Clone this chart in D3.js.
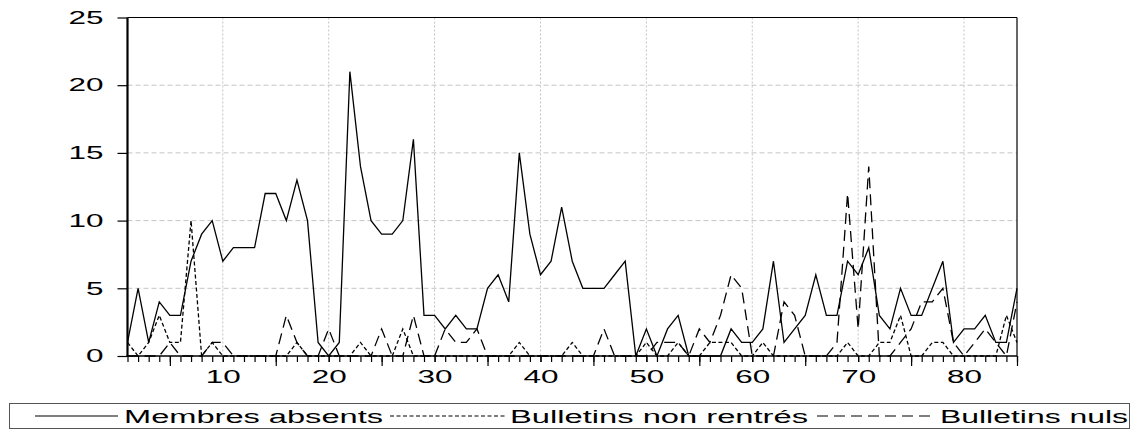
<!DOCTYPE html>
<html>
<head>
<meta charset="utf-8">
<script src="https://cdn.jsdelivr.net/npm/d3@7"></script>
<style>
  html, body { margin: 0; padding: 0; background: #fff; }
  svg { display: block; }
  text { font-family: "Liberation Sans", Arial, sans-serif; fill: #000; }
</style>
</head>
<body>
<svg id="chart" width="1136" height="430"></svg>
<script>
// Observation index 1..85
const observations = d3.range(1, 86);

// Membres absents
const membresAbsents = [
  1, 5, 1, 4, 3, 3, 7, 9, 10, 7,
  8, 8, 8, 12, 12, 10, 13, 10, 1, 0,
  1, 21, 14, 10, 9, 9, 10, 16, 3, 3,
  2, 3, 2, 2, 5, 6, 4, 15, 9, 6,
  7, 11, 7, 5, 5, 5, 6, 7, 0, 2,
  0, 2, 3, 0, 0, 0, 0, 2, 1, 1,
  2, 7, 1, 2, 3, 6, 3, 3, 7, 6,
  8, 3, 2, 5, 3, 3, 5, 7, 1, 2,
  2, 3, 1, 1, 5
];

// Bulletins non rentrés
const bulletinsNonRentres = [
  1, 0, 1, 3, 1, 1, 10, 0, 1, 0,
  0, 0, 0, 0, 0, 0, 1, 0, 0, 0,
  0, 0, 1, 0, 0, 0, 2, 0, 0, 0,
  0, 0, 0, 0, 0, 0, 0, 1, 0, 0,
  0, 0, 1, 0, 0, 0, 0, 0, 0, 1,
  0, 0, 1, 0, 0, 1, 1, 1, 0, 0,
  1, 0, 0, 0, 0, 0, 0, 0, 1, 0,
  0, 1, 1, 3, 0, 0, 1, 1, 0, 0,
  0, 0, 0, 3, 1
];

// Bulletins nuls
const bulletinsNuls = [
  0, 0, 0, 0, 1, 0, 0, 0, 1, 1,
  0, 0, 0, 0, 0, 3, 1, 0, 0, 2,
  0, 0, 0, 0, 2, 0, 0, 3, 0, 0,
  2, 1, 1, 2, 0, 0, 0, 0, 0, 0,
  0, 0, 0, 0, 0, 2, 0, 0, 0, 0,
  1, 1, 1, 0, 2, 1, 3, 6, 5, 0,
  0, 0, 4, 3, 0, 0, 0, 1, 12, 2,
  14, 0, 0, 1, 2, 4, 4, 5, 1, 0,
  1, 2, 1, 0, 4
];

const yTicks = [0, 5, 10, 15, 20, 25];
const xLabelTicks = [10, 20, 30, 40, 50, 60, 70, 80];
const xLongTicks = [5, 15, 25, 35, 45, 55, 65, 75, 85];

const seriesNames = ["Membres absents", "Bulletins non rentrés", "Bulletins nuls"];
const seriesValues = [membresAbsents, bulletinsNonRentres, bulletinsNuls];
const seriesDash = [null, "4,2.5", "11,6"];

const svg = d3.select("#chart");

const x = d3.scaleLinear().domain([1, 85]).range([127.5, 1017]);
const y = d3.scaleLinear().domain([0, 25]).range([356, 17.5]);

// Text is drawn horizontally stretched: width per glyph is fixed via textLength
const DIGIT_W = 17.5;
function stretch(sel, w) {
  sel.attr("textLength", w).attr("lengthAdjust", "spacingAndGlyphs");
}

// Grid
const grid = svg.append("g");
grid.selectAll("line.h")
  .data(yTicks.filter(v => v > 0 && v < 25))
  .join("line")
  .attr("x1", x(1)).attr("x2", x(85))
  .attr("y1", d => y(d)).attr("y2", d => y(d))
  .attr("stroke", "#c4c4c4").attr("stroke-width", 1)
  .attr("stroke-dasharray", "5,3");
grid.selectAll("line.v")
  .data(xLabelTicks)
  .join("line")
  .attr("x1", d => x(d)).attr("x2", d => x(d))
  .attr("y1", y(25)).attr("y2", y(0))
  .attr("stroke", "#c4c4c4").attr("stroke-width", 1)
  .attr("stroke-dasharray", "2,2");

// Frame top and right
svg.append("line")
  .attr("x1", x(1)).attr("x2", x(85)).attr("y1", y(25)).attr("y2", y(25))
  .attr("stroke", "#000").attr("stroke-width", 1);
svg.append("line")
  .attr("x1", x(85)).attr("x2", x(85)).attr("y1", y(25)).attr("y2", y(0))
  .attr("stroke", "#000").attr("stroke-width", 1.2);

// Series
const line = d3.line()
  .x((d, i) => x(observations[i]))
  .y(d => y(d));

seriesValues.forEach((vals, k) => {
  const p = svg.append("path")
    .datum(vals)
    .attr("d", line)
    .attr("fill", "none")
    .attr("stroke", "#000")
    .attr("stroke-width", 1.3)
    .attr("stroke-linejoin", "miter");
  if (seriesDash[k]) p.attr("stroke-dasharray", seriesDash[k]);
});

// X axis: minor ticks at every observation
const xMinor = svg.append("g")
  .attr("transform", `translate(0,${y(0)})`)
  .call(d3.axisBottom(x).tickValues(observations).tickSize(6).tickFormat(""));
const xLong = svg.append("g")
  .attr("transform", `translate(0,${y(0)})`)
  .call(d3.axisBottom(x).tickValues(xLongTicks).tickSize(10).tickFormat(""));
const xLab = svg.append("g")
  .attr("transform", `translate(0,${y(0)})`)
  .call(d3.axisBottom(x).tickValues(xLabelTicks).tickSize(6).tickPadding(0).tickFormat(d3.format("d")));
[xMinor, xLong, xLab].forEach(g => {
  g.select(".domain").remove();
  g.selectAll(".tick line").attr("stroke", "#000").attr("stroke-width", 1.2);
});
xLab.selectAll(".tick text")
  .attr("font-size", 18)
  .attr("dy", null)
  .attr("y", 27)
  .each(function(d) { stretch(d3.select(this), String(d).length * DIGIT_W); });

// Bottom axis line
svg.append("line")
  .attr("x1", x(1) - 1).attr("x2", x(85)).attr("y1", y(0)).attr("y2", y(0))
  .attr("stroke", "#000").attr("stroke-width", 1.3);

// Y axis
const yAxis = svg.append("g")
  .attr("transform", `translate(${x(1)},0)`)
  .call(d3.axisLeft(y).tickValues(yTicks).tickSize(10).tickPadding(14).tickFormat(d3.format("d")));
yAxis.select(".domain").attr("stroke", "#000").attr("stroke-width", 2.2)
  .attr("d", `M0,${y(25)}V${y(0) + 0.6}`);
yAxis.selectAll(".tick line").attr("stroke", "#000").attr("stroke-width", 1.2);
yAxis.selectAll(".tick text")
  .attr("font-size", 18)
  .each(function(d) { stretch(d3.select(this), String(d).length * DIGIT_W); });

// Legend
const legend = svg.append("g");
legend.append("rect")
  .attr("x", 9.5).attr("y", 403.5).attr("width", 1120).attr("height", 25)
  .attr("fill", "#fff").attr("stroke", "#555").attr("stroke-width", 1);

const legendItems = [
  { x1: 35, x2: 118, tx: 124, tw: 259 },
  { x1: 390, x2: 505, tx: 510, tw: 298 },
  { x1: 817, x2: 935, tx: 940, tw: 188 }
];
legendItems.forEach((it, k) => {
  const l = legend.append("line")
    .attr("x1", it.x1).attr("x2", it.x2).attr("y1", 416).attr("y2", 416)
    .attr("stroke", "#000").attr("stroke-width", 1.1);
  if (seriesDash[k]) l.attr("stroke-dasharray", seriesDash[k]);
  legend.append("text")
    .attr("x", it.tx).attr("y", 422.5)
    .attr("font-size", 18)
    .text(seriesNames[k])
    .call(stretch, it.tw);
});
</script>
</body>
</html>
